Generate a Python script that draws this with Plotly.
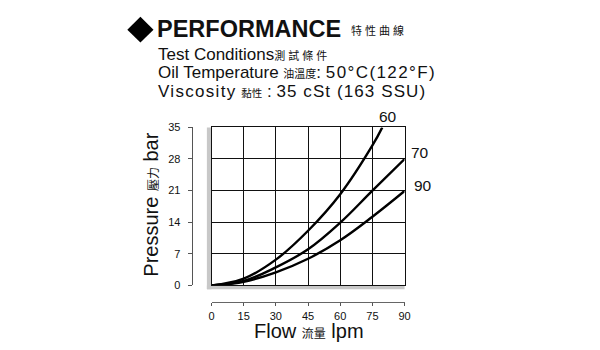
import plotly.graph_objects as go

# ---------------- data ----------------
FLOW_60 = [0, 15, 30, 45, 60, 75, 79.6]
PRESS_60 = [0, 1.5, 5.7, 12.1, 20.2, 31.0, 35]
FLOW = [0, 15, 30, 45, 60, 75, 90]
PRESS_70 = [0, 1.0, 4.0, 8.0, 13.9, 21.0, 28.0]
PRESS_90 = [0, 0.8, 2.9, 5.9, 10.0, 15.2, 20.9]

X_TICKS = [0, 15, 30, 45, 60, 75, 90]
Y_TICKS = [0, 7, 14, 21, 28, 35]
CURVE_LABELS = ["60", "70", "90"]

W, H = 600, 350
FONT = "Liberation Sans, Arial, Noto Sans CJK TC, sans-serif"


def fx(px):
    return px / W


def fy(py):
    return 1 - py / H


X_DOM = [fx(211.7), fx(407.7)]
Y_DOM = [fy(289.3), fy(125.7)]

fig = go.Figure()
line_style = dict(color="black", width=2.4, shape="spline", smoothing=1.1)
fig.add_trace(go.Scatter(x=FLOW_60, y=PRESS_60, mode="lines", line=line_style,
                         xaxis="x", yaxis="y", hoverinfo="skip"))
fig.add_trace(go.Scatter(x=FLOW, y=PRESS_70, mode="lines", line=line_style,
                         xaxis="x2", yaxis="y2", hoverinfo="skip"))
fig.add_trace(go.Scatter(x=FLOW, y=PRESS_90, mode="lines", line=line_style,
                         xaxis="x", yaxis="y", hoverinfo="skip"))

grid = dict(showgrid=True, gridcolor="#111111", gridwidth=1.4, zeroline=False,
            showline=True, mirror=True, linecolor="#111111", linewidth=1.4,
            showticklabels=False, ticks="")

fig.update_layout(
    width=W, height=H,
    margin=dict(l=0, r=0, t=0, b=0),
    paper_bgcolor="white", plot_bgcolor="white",
    showlegend=False,
    font=dict(family=FONT, color="#111111"),
    xaxis=dict(domain=X_DOM, range=[0, 90], tickvals=X_TICKS, anchor="y", **grid),
    yaxis=dict(domain=Y_DOM, range=[0, 35], tickvals=Y_TICKS, anchor="x", **grid),
    xaxis2=dict(overlaying="x", anchor="free", position=fy(306.7), range=[0, 90],
                tickvals=X_TICKS, ticktext=[str(v) for v in X_TICKS],
                ticks="outside", ticklen=3, tickwidth=1.2, tickcolor="#555555",
                showline=True, linecolor="#666666", linewidth=1.3,
                showgrid=False, zeroline=False,
                tickfont=dict(size=11, color="#111111", family=FONT)),
    yaxis2=dict(overlaying="y", anchor="free", position=fx(191.7), side="left",
                range=[0, 35], tickvals=Y_TICKS, ticktext=[str(v) for v in Y_TICKS],
                ticks="outside", ticklen=4, tickwidth=1.2, tickcolor="#555555",
                ticklabelstandoff=5,
                showline=True, linecolor="#555555", linewidth=1.3,
                showgrid=False, zeroline=False,
                tickfont=dict(size=11, color="#111111", family=FONT)),
)

# grey shadow along left and bottom edges of the grid
fig.add_shape(type="rect", xref="paper", yref="paper", layer="below",
              x0=fx(207), x1=fx(211.7), y0=fy(293.3), y1=fy(125.7),
              fillcolor="#c8c8c8", line_width=0)
fig.add_shape(type="rect", xref="paper", yref="paper", layer="below",
              x0=fx(207), x1=fx(407.7), y0=fy(293.3), y1=fy(289.3),
              fillcolor="#c8c8c8", line_width=0)

# diamond bullet
cx, cy, r = 139.5, 24.5, 13.3
fig.add_shape(type="path", xref="paper", yref="paper",
              path=(f"M {fx(cx - r)},{fy(cy)} L {fx(cx)},{fy(cy - r)} "
                    f"L {fx(cx + r)},{fy(cy)} L {fx(cx)},{fy(cy + r)} Z"),
              fillcolor="black", line_width=0)


def note(text, x, y, size, xanchor="left", angle=0, **kw):
    fig.add_annotation(text=text, x=fx(x), y=fy(y), xref="paper", yref="paper",
                       xanchor=xanchor, yanchor="middle", showarrow=False,
                       textangle=angle,
                       font=dict(size=size, family=FONT, color="#111111"), **kw)


note("<b>PERFORMANCE</b>", 154, 23.8, 23.5)
note("<span style='letter-spacing:3px'>特性曲線</span>", 351.5, 25.5, 11)
note("Test Conditions<span style='font-size:11px;letter-spacing:3px'>測試條件</span>",
     155.5, 50.0, 17)
note("Oil Temperature <span style='font-size:11px'>油溫度</span>: "
     "<span style='letter-spacing:1.4px'>50°C(122°F)</span>", 155.5, 69.3, 17)
note("<span style='letter-spacing:1.3px'>Viscosity</span> "
     "<span style='font-size:10.5px'>黏性</span> : "
     "<span style='letter-spacing:1.1px'>35 cSt (163 SSU)</span>", 155.5, 88.3, 17)

# axis titles
note("Flow <span style='font-size:12px'>流量</span> lpm", 310.8, 336.5, 20,
     xanchor="center")
note("Pressure <span style='font-size:12px'>壓力</span> bar", 150.0, 206.0, 20,
     xanchor="center", angle=-90)

# curve labels
for lab, (lx, ly) in zip(CURVE_LABELS, [(391.3, 114.0), (423.3, 152.0), (426.7, 185.8)]):
    note(lab, lx, ly, 15.5, xanchor="center")

fig.write_html("out.html")
